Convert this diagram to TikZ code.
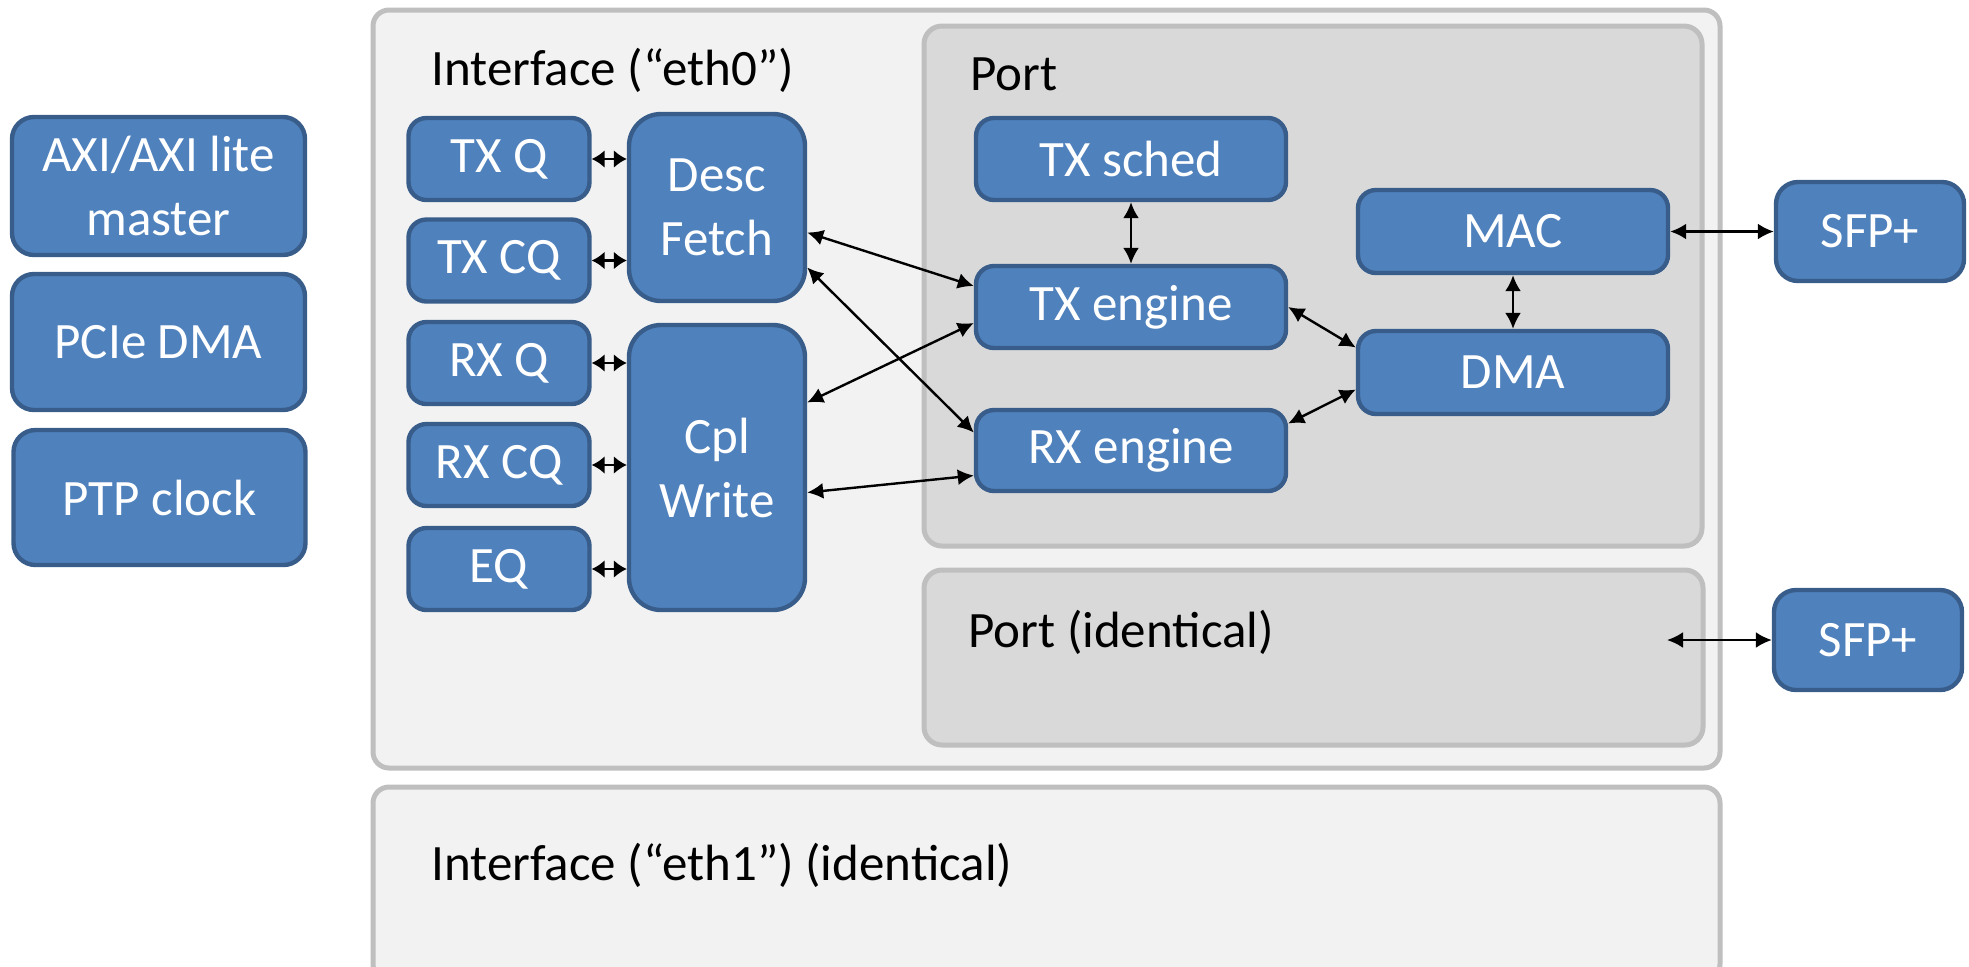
\documentclass[tikz,border=0pt]{standalone}
\usepackage{fontspec}
\setmainfont{Carlito}
\usetikzlibrary{arrows.meta,calc}
\definecolor{boxblue}{HTML}{4F81BD}
\definecolor{boxedge}{HTML}{385D8A}
\definecolor{ifacefill}{HTML}{F2F2F2}
\definecolor{portfill}{HTML}{D9D9D9}
\definecolor{greyedge}{HTML}{BFBFBF}
\tikzset{
  blk/.style={draw=boxedge,fill=boxblue,line width=2.2pt,rounded corners=9pt,
    text=white,align=center,inner sep=0pt,font=\fontsize{25.5}{32}\selectfont},
  bigblk/.style={blk,rounded corners=16pt},
  lbl/.style={anchor=base west,inner sep=0pt,font=\fontsize{25.5}{32}\selectfont},
  link/.style={line width=1.2pt,{Latex[length=8pt,width=8pt]}-{Latex[length=8pt,width=8pt]}},
  qlink/.style={line width=1.2pt,{Latex[length=6.5pt,width=9pt]}-{Latex[length=6.5pt,width=9pt]}},
  ifacebox/.style={draw=greyedge,fill=ifacefill,line width=2.5pt,rounded corners=8pt},
  portbox/.style={draw=greyedge,fill=portfill,line width=2.5pt,rounded corners=9pt},
}
\begin{document}
\begin{tikzpicture}[x=0.5pt,y=-0.5pt]
\useasboundingbox (0,0) rectangle (1969,966);
\draw[ifacebox] (373,10) rectangle (1720,768);
\draw[ifacebox] (373,787) rectangle (1720,980);
\draw[portbox] (924,26) rectangle (1702,546);
\draw[portbox] (924,570) rectangle (1703,745);
\node[lbl] (ifacelbl) at (431,85) {Interface (“eth0”)};
\node[lbl] (ifacebis) at (431,880) {Interface (“eth1”) (identical)};
\node[lbl] (portlbl) at (970,90) {Port};
\node[lbl] (portbis) at (968,647) {Port (identical)};
\node[blk,minimum width=146.5pt,minimum height=69pt,rounded corners=11pt] (axi) at (158.5,186) {AXI/AXI lite\\master};
\node[blk,minimum width=146.5pt,minimum height=68pt,rounded corners=11pt] (pcie) at (158.5,342) {PCIe DMA};
\node[blk,minimum width=146pt,minimum height=67.5pt,rounded corners=11pt] (ptp) at (159.5,497.5) {PTP clock};
\node[blk,minimum width=90.5pt,minimum height=41pt] (txq) at (499,159) {TX Q};
\node[blk,minimum width=90.5pt,minimum height=41pt] (txcq) at (499,260.5) {TX CQ};
\node[blk,minimum width=90.5pt,minimum height=41pt] (rxq) at (499,363) {RX Q};
\node[blk,minimum width=90.5pt,minimum height=41pt] (rxcq) at (499,465) {RX CQ};
\node[blk,minimum width=90.5pt,minimum height=41pt] (eq) at (499,569) {EQ};
\node[bigblk,minimum width=88pt,minimum height=93.5pt] (fetch) at (717,207.5) {Desc\\Fetch};
\node[bigblk,minimum width=88pt,minimum height=142.5pt] (cpl) at (717,467.5) {Cpl\\Write};
\node[blk,minimum width=155pt,minimum height=41pt] (txsched) at (1131,159) {TX sched};
\node[blk,minimum width=155pt,minimum height=41pt] (txeng) at (1131,307) {TX engine};
\node[blk,minimum width=155pt,minimum height=40.5pt] (rxeng) at (1131,450.5) {RX engine};
\node[blk,minimum width=155pt,minimum height=41.5pt] (mac) at (1513,231.5) {MAC};
\node[blk,minimum width=155pt,minimum height=41.5pt] (dma) at (1513,372.5) {DMA};
\node[blk,minimum width=94pt,minimum height=49.5pt,rounded corners=11pt] (sfpa) at (1870,231.5) {SFP+};
\node[blk,minimum width=94pt,minimum height=50pt,rounded corners=11pt] (sfpb) at (1868,640) {SFP+};
\coordinate (portend) at (1667,640);
\draw[qlink] (txq.east) -- (txq.east -| fetch.west);
\draw[qlink] (txcq.east) -- (txcq.east -| fetch.west);
\draw[qlink] (rxq.east) -- (rxq.east -| cpl.west);
\draw[qlink] (rxcq.east) -- (rxcq.east -| cpl.west);
\draw[qlink] (eq.east) -- (eq.east -| cpl.west);
\draw[link] ($(fetch.east)+(0,25)$) -- ($(txeng.west)+(0,-21)$);
\draw[link] ($(fetch.east)+(0,60)$) -- ($(rxeng.west)+(0,-18)$);
\draw[link] ($(cpl.east)+(0,-65)$) -- ($(txeng.west)+(0,16)$);
\draw[link] ($(cpl.east)+(0,25)$) -- ($(rxeng.west)+(0,25)$);
\draw[link] (txsched) -- (txeng);
\draw[link] (txeng.east) -- ($(dma.west)+(0,-25)$);
\draw[link] ($(rxeng.east)+(0,-27)$) -- ($(dma.west)+(0,17)$);
\draw[link] (mac) -- (dma);
\draw[link] (mac) -- (sfpa);
\draw[link] (portend) -- (sfpb.west);
\end{tikzpicture}
\end{document}
